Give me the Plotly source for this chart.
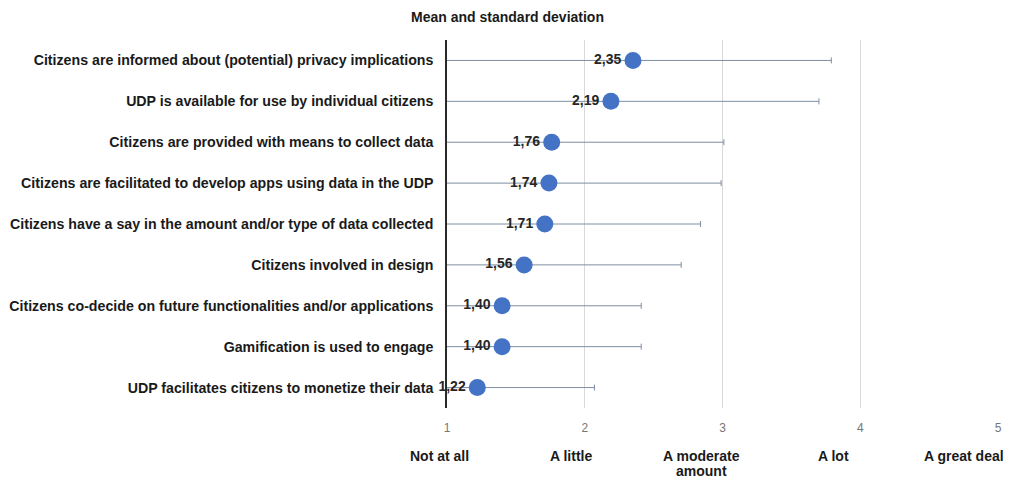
import plotly.graph_objects as go

# Survey items, top to bottom
items = [
    "Citizens are informed about (potential) privacy implications",
    "UDP is available for use by individual citizens",
    "Citizens are provided with means to collect data",
    "Citizens are facilitated to develop apps using data in the UDP",
    "Citizens have a say in the amount and/or type of data collected",
    "Citizens involved in design",
    "Citizens co-decide on future functionalities and/or applications",
    "Gamification is used to engage",
    "UDP facilitates citizens to monetize their data",
]
means = [2.35, 2.19, 1.76, 1.74, 1.71, 1.56, 1.40, 1.40, 1.22]
std_devs = [1.44, 1.51, 1.25, 1.25, 1.13, 1.14, 1.01, 1.01, 0.85]

scale_ticks = [1, 2, 3, 4, 5]
scale_labels = ["Not at all", "A little", "A moderate<br>amount", "A lot", "A great deal"]
scale_label_pos = [-0.0145, 0.2255, 0.4615, 0.701, 0.939]

FONT = "Liberation Sans, Arial, sans-serif"

mean_text = [f"{m:.2f}".replace(".", ",") for m in means]

fig = go.Figure()
fig.add_trace(go.Scatter(
    x=means,
    y=items,
    mode="markers+text",
    marker=dict(size=17, color="#4472C4"),
    text=mean_text,
    textposition="middle left",
    textfont=dict(family=FONT, size=14, color="#262626", weight="bold"),
    error_x=dict(type="data", array=std_devs, symmetric=True,
                 color="#7f8ea3", thickness=1, width=3),
    cliponaxis=False,
    showlegend=False,
    hoverinfo="skip",
))

fig.update_layout(
    width=1009,
    height=480,
    margin=dict(l=447, r=11, t=40, b=72),
    paper_bgcolor="white",
    plot_bgcolor="white",
    title=dict(text="<b>Mean and standard deviation</b>",
               x=0.503, xanchor="center", y=0.965, yanchor="middle",
               font=dict(family=FONT, size=14, color="#1a1a1a")),
    xaxis=dict(
        range=[1, 5],
        tickvals=scale_ticks,
        ticktext=[str(t) for t in scale_ticks],
        showgrid=True,
        gridcolor="#d9d9d9",
        gridwidth=1,
        zeroline=False,
        showline=False,
        ticks="",
        ticklabelstandoff=11,
        tickfont=dict(family=FONT, size=12, color="#777777"),
        automargin=False,
        fixedrange=True,
    ),
    yaxis=dict(
        categoryorder="array",
        categoryarray=items,
        range=[len(items) - 0.5, -0.5],
        showgrid=False,
        zeroline=False,
        showline=True,
        linecolor="#2a2a2a",
        linewidth=1.6,
        ticks="",
        ticklabelstandoff=9,
        tickfont=dict(family=FONT, size=14.2, color="#1a1a1a", weight="bold"),
        automargin=False,
        fixedrange=True,
    ),
)

# Verbal scale anchors under the numeric ticks; wrapped labels are set
# line by line with a tight 15px leading so they stay inside the page.
plot_h = 480 - 40 - 72
for label, xp in zip(scale_labels, scale_label_pos):
    for i, line in enumerate(label.split("<br>")):
        y_px = 456 + 15 * i
        fig.add_annotation(
            x=xp, y=-(y_px - 408) / plot_h, xref="paper", yref="paper",
            text=f"<b>{line}</b>", showarrow=False,
            xanchor="center", yanchor="middle", align="center",
            font=dict(family=FONT, size=14, color="#1a1a1a"),
        )

fig.write_html("out.html")
